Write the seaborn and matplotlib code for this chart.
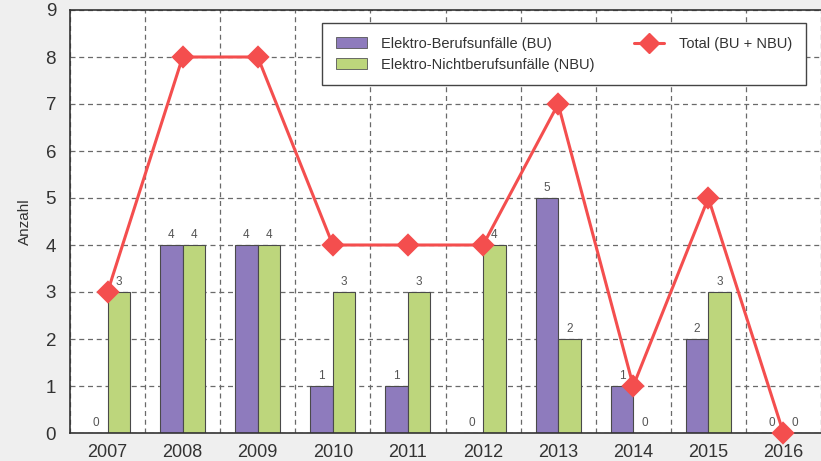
import numpy as np
import pandas as pd
import matplotlib
matplotlib.use("Agg")
import matplotlib.pyplot as plt
import seaborn as sns
from matplotlib.patches import Patch
from matplotlib.lines import Line2D

years = ["2007", "2008", "2009", "2010", "2011", "2012", "2013", "2014", "2015", "2016"]
bu = [0, 4, 4, 1, 1, 0, 5, 1, 2, 0]
nbu = [3, 4, 4, 3, 3, 4, 2, 0, 3, 0]
total = [3, 8, 8, 4, 4, 4, 7, 1, 5, 0]
series_names = ["Elektro-Berufsunfälle (BU)", "Elektro-Nichtberufsunfälle (NBU)"]
total_name = "Total (BU + NBU)"

sns.set_style("white")
plt.rcParams["font.family"] = ["Liberation Sans", "DejaVu Sans"]

c_bu = "#8e7bbd"
c_nbu = "#bdd67c"
c_tot = "#f44e4e"
txt = "#333333"

df = pd.DataFrame({
    "Jahr": years * 2,
    "Anzahl": bu + nbu,
    "Serie": [series_names[0]] * len(years) + [series_names[1]] * len(years),
})
df_tot = pd.DataFrame({"Jahr": years, "Total": total})

fig = plt.figure(figsize=(8.21, 4.61), dpi=100, facecolor="#efefef")
ax = fig.add_axes([70 / 821, 28 / 461, 751 / 821, 423 / 461])
ax.set_facecolor("white")

sns.barplot(data=df, x="Jahr", y="Anzahl", hue="Serie", order=years,
            hue_order=series_names, palette=[c_bu, c_nbu], width=0.6,
            edgecolor="#4a4a4a", linewidth=0.8, legend=False, ax=ax,
            saturation=1, zorder=2)

for cont in ax.containers:
    ax.bar_label(cont, fmt="%d", padding=3, fontsize=8.5, color="#555555")

sns.pointplot(data=df_tot, x="Jahr", y="Total", order=years, color=c_tot,
              markers="D", markersize=10, linewidth=2.2, errorbar=None,
              ax=ax, zorder=5, clip_on=False)

ax.set_xlim(-0.5, 9.47)
ax.set_ylim(0, 9)
ax.set_yticks(range(0, 10))
ax.set_xticks(np.arange(-0.5, 10, 1), minor=True)
ax.set_axisbelow(True)
ax.grid(axis="y", which="major", linestyle=(0, (4, 3)), color="#6a6a6a", linewidth=0.9)
ax.grid(axis="x", which="minor", linestyle=(0, (4, 3)), color="#6a6a6a", linewidth=0.9)
ax.grid(axis="x", which="major", visible=False)

ax.tick_params(axis="both", which="both", length=0)
ax.tick_params(axis="y", labelsize=13.5, labelcolor=txt, pad=10)
ax.tick_params(axis="x", labelsize=13, labelcolor=txt, pad=8)
ax.set_xlabel("")
ax.set_ylabel("Anzahl", fontsize=11, color=txt, labelpad=10)

for s in ["left", "bottom", "top"]:
    ax.spines[s].set_visible(True)
    ax.spines[s].set_color("#333333")
    ax.spines[s].set_linewidth(1.2)
ax.spines["right"].set_visible(False)

handles = [
    Patch(facecolor=c_bu, edgecolor="#555555", linewidth=0.6, label=series_names[0]),
    Patch(facecolor=c_nbu, edgecolor="#555555", linewidth=0.6, label=series_names[1]),
    Line2D([0], [0], color=c_tot, linewidth=2.2, marker="D", markersize=10, label=total_name),
]
leg = ax.legend(handles=handles, ncol=2, loc="upper left",
                bbox_to_anchor=(0.336, 0.823, 0.644, 0.146), mode="expand",
                borderaxespad=0, fontsize=10.5, frameon=True, fancybox=False,
                handlelength=2.1, handletextpad=1.0, borderpad=0.95,
                labelspacing=0.45, handleheight=0.8)
leg.get_frame().set_edgecolor("#444444")
leg.get_frame().set_linewidth(1.0)
leg.get_frame().set_facecolor("white")
leg.get_frame().set_alpha(1)
for t in leg.get_texts():
    t.set_color(txt)

fig.savefig("out.png", dpi=100, facecolor=fig.get_facecolor())
